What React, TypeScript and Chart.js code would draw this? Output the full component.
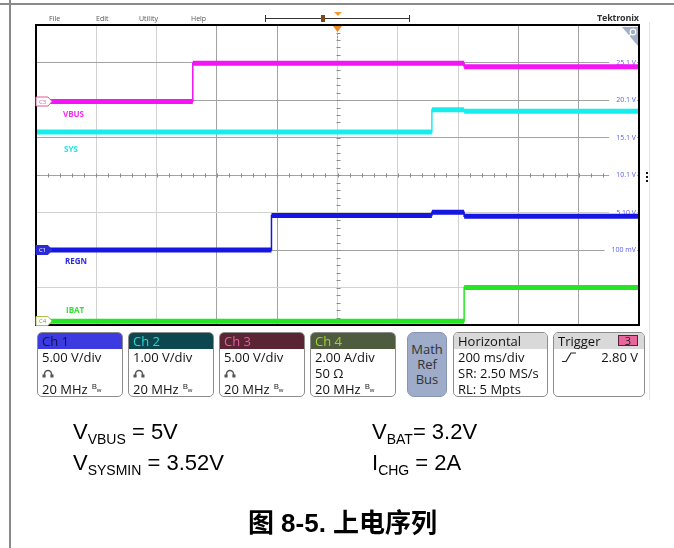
import React, { useEffect, useRef } from 'react';
import { Chart, registerables } from 'chart.js';

Chart.register(...registerables);

const UI_FONT = '"Open Sans", "DejaVu Sans", sans-serif';
const DOC_FONT = '"Liberation Sans", Arial, "Noto Sans CJK SC", sans-serif';

// ---- time base (200 ms/div, 10 div) ----
const timeStartMs = 0;
const timeEndMs = 2000;
const timePerDivMs = 200;
const triggerTimeMs = 1000;

// ---- traces: time in ms, value in channel units ----
const vbusTimesMs = [0, 520, 1420, 2000];
const vbusVolts = [0, 5.1, 4.65, 4.65];
const sysTimesMs = [0, 1313, 1420, 2000];
const sysVolts = [3.15, 3.74, 3.7, 3.7];
const regnTimesMs = [0, 781, 1313, 1420, 2000];
const regnVolts = [0, 4.6, 5.05, 4.5, 4.5];
const ibatTimesMs = [0, 1420, 2000];
const ibatAmps = [0, 1.8, 1.8];

// ---- channel settings ----
const channelNames = ['Ch 1', 'Ch 2', 'Ch 3', 'Ch 4'];
const channelScaleText = ['5.00 V/div', '1.00 V/div', '5.00 V/div', '2.00 A/div'];
const channelUnitsPerDiv = [5, 1, 5, 2];
const channelGroundDiv = [2, 2, 5.96, 0.1];
const channelSecondLine = ['probe', 'probe', 'probe', '50 Ω'];
const bandwidthText = '20 MHz';
const verticalDivs = 8;

// ---- right-edge readout (Ch1 reference levels) ----
const refLevelsV = [-9.9, -4.9, 0.1, 5.1, 10.1, 15.1, 20.1, 25.1, 30.1];
const refLevelLabels = [null, '-4.90 V', '100 mV', '5.10 V', '10.1 V', '15.1 V', '20.1 V', '25.1 V', null];

// ---- readouts ----
const menuItems = ['File', 'Edit', 'Utility', 'Help'];
const horizontalLines = ['200 ms/div', 'SR: 2.50 MS/s', 'RL: 5 Mpts'];
const triggerSource = '3';
const triggerLevel = '2.80 V';

const traceStyles = [
  { name: 'VBUS', axis: 'y3', times: vbusTimesMs, values: vbusVolts, color: '#f414f4', width: 5 },
  { name: 'SYS', axis: 'y2', times: sysTimesMs, values: sysVolts, color: '#16eeee', width: 5 },
  { name: 'REGN', axis: 'y1', times: regnTimesMs, values: regnVolts, color: '#1616e2', width: 5 },
  { name: 'IBAT', axis: 'y4', times: ibatTimesMs, values: ibatAmps, color: '#24e624', width: 5 },
];

function channelAxis(i: number) {
  return {
    display: false,
    min: -channelGroundDiv[i] * channelUnitsPerDiv[i],
    max: (verticalDivs - channelGroundDiv[i]) * channelUnitsPerDiv[i],
  };
}

const xDark = [3, 4, 8, 9];
const yDark = [1, 3, 4, 5, 6];

const decor = {
  id: 'scopeDecor',
  beforeDatasetsDraw(chart: any) {
    const ctx = chart.ctx;
    const xs = chart.scales.x;
    const yr = chart.scales.yRef;
    ctx.save();
    ctx.strokeStyle = '#8a8a8a';
    ctx.lineWidth = 1;
    const cy = Math.round(yr.getPixelForValue(refLevelsV[4])) + 0.5;
    ctx.beginPath();
    for (let t = timeStartMs + timePerDivMs / 5; t < timeEndMs - timePerDivMs / 2; t += timePerDivMs / 5) {
      const x = Math.round(xs.getPixelForValue(t)) + 0.5;
      ctx.moveTo(x, cy - 2);
      ctx.lineTo(x, cy + 2);
    }
    const cx = Math.round(xs.getPixelForValue(triggerTimeMs)) + 0.5;
    const step = channelUnitsPerDiv[0] / 5;
    for (let k = 1; k < verticalDivs * 5; k++) {
      const y = Math.round(yr.getPixelForValue(refLevelsV[0] + k * step)) + 0.5;
      ctx.moveTo(cx - 2, y);
      ctx.lineTo(cx + 2, y);
    }
    ctx.stroke();
    ctx.restore();
  },
  afterDatasetsDraw(chart: any) {
    const ctx = chart.ctx;
    const ca = chart.chartArea;
    const xs = chart.scales.x;
    ctx.save();
    // frame
    ctx.strokeStyle = '#000';
    ctx.lineWidth = 2;
    ctx.strokeRect(ca.left, ca.top, ca.right - ca.left, ca.bottom - ca.top);

    // channel ground markers
    const markers = [
      { label: 'C3', axis: 'y3', fill: '#ffffff', stroke: '#e05a9c', text: '#e05a9c' },
      { label: 'C1', axis: 'y1', fill: '#2b2bd6', stroke: '#2b2bd6', text: '#ffffff' },
      { label: 'C4', axis: 'y4', fill: '#ffffff', stroke: '#a6c44e', text: '#7c9a2c' },
    ];
    markers.forEach((m) => {
      let y = chart.scales[m.axis].getPixelForValue(0);
      y = Math.min(y, ca.bottom - 4);
      const l = ca.left;
      ctx.beginPath();
      ctx.moveTo(l, y - 4.5);
      ctx.lineTo(l + 12, y - 4.5);
      ctx.lineTo(l + 16, y);
      ctx.lineTo(l + 12, y + 4.5);
      ctx.lineTo(l, y + 4.5);
      ctx.closePath();
      ctx.fillStyle = m.fill;
      ctx.fill();
      ctx.lineWidth = 1;
      ctx.strokeStyle = m.stroke;
      ctx.stroke();
      ctx.fillStyle = m.text;
      ctx.font = `6px ${UI_FONT}`;
      ctx.textBaseline = 'middle';
      ctx.textAlign = 'left';
      ctx.fillText(m.label, l + 3, y + 0.5);
    });

    // trigger position marker
    const tx = xs.getPixelForValue(triggerTimeMs);
    ctx.fillStyle = '#f28a24';
    ctx.beginPath();
    ctx.moveTo(tx - 4.5, ca.top + 1);
    ctx.lineTo(tx + 4.5, ca.top + 1);
    ctx.lineTo(tx, ca.top + 7);
    ctx.closePath();
    ctx.fill();
    ctx.fillStyle = '#999';
    for (let y = ca.top + 8; y < ca.top + 16; y += 3) ctx.fillRect(tx - 0.5, y, 1, 2);

    // zoom corner
    ctx.fillStyle = '#a3b0c9';
    ctx.beginPath();
    ctx.moveTo(ca.right - 17, ca.top + 2);
    ctx.lineTo(ca.right - 1, ca.top + 2);
    ctx.lineTo(ca.right - 1, ca.top + 21);
    ctx.closePath();
    ctx.fill();
    ctx.strokeStyle = '#ffffff';
    ctx.lineWidth = 1.2;
    ctx.beginPath();
    ctx.arc(ca.right - 6, ca.top + 7, 2.8, 0, Math.PI * 2);
    ctx.moveTo(ca.right - 8, ca.top + 9);
    ctx.lineTo(ca.right - 11, ca.top + 12);
    ctx.stroke();
    ctx.restore();
  },
};

function Probe() {
  return (
    <svg width="12" height="10" viewBox="0 0 12 10" style={{ display: 'block' }}>
      <path d="M2.5 9 V6 A3.5 3.5 0 0 1 9.5 6 V9" fill="none" stroke="#555" strokeWidth="1.5" />
      <rect x="0.5" y="6.5" width="3" height="3" fill="#555" />
      <rect x="8.5" y="6.5" width="3" height="3" fill="#555" />
    </svg>
  );
}

function Bw() {
  return (
    <span style={{ fontSize: 8, position: 'relative', top: -3, marginLeft: 4 }}>
      B<span style={{ fontSize: 6, position: 'relative', top: 3 }}>w</span>
    </span>
  );
}

const chHeadBg = ['#3b3be0', '#0c4750', '#5b2434', '#4e5b3f'];
const chHeadFg = ['#121250', '#30d4d4', '#e0609c', '#a2d030'];

function Box(props: { left: number; width: number; head: React.ReactNode; headBg: string; headFg: string; children?: React.ReactNode }) {
  return (
    <div
      style={{
        position: 'absolute',
        left: props.left,
        top: 332,
        width: props.width,
        height: 65,
        boxSizing: 'border-box',
        border: '1px solid #8c8c8c',
        borderRadius: 5,
        overflow: 'hidden',
        background: '#fff',
        font: `13px ${UI_FONT}`,
        color: '#111',
      }}
    >
      <div style={{ height: 16, background: props.headBg, color: props.headFg, lineHeight: '16px', paddingLeft: 4, fontSize: 13, position: 'relative' }}>
        {props.head}
      </div>
      {props.children}
    </div>
  );
}

const lineStyle: React.CSSProperties = { height: 16, lineHeight: '16px', paddingLeft: 4, whiteSpace: 'nowrap', display: 'flex', alignItems: 'center' };

export default function App() {
  const canvasRef = useRef<HTMLCanvasElement | null>(null);

  useEffect(() => {
    const canvas = canvasRef.current;
    if (!canvas) return;
    const datasets: any[] = [];
    traceStyles.forEach((tr) => {
      const band: any[] = [];
      for (let i = 0; i < tr.times.length - 1; i++) {
        band.push({ x: tr.times[i], y: tr.values[i] });
        band.push({ x: tr.times[i + 1], y: tr.values[i] });
        band.push({ x: tr.times[i + 1], y: null });
      }
      datasets.push({
        label: tr.name,
        data: band,
        yAxisID: tr.axis,
        borderColor: tr.color,
        borderWidth: tr.width,
        pointRadius: 0,
        spanGaps: false,
        borderCapStyle: 'butt',
      });
      datasets.push({
        label: tr.name + ' edge',
        data: tr.times.map((t, i) => ({ x: t, y: tr.values[i] })),
        yAxisID: tr.axis,
        borderColor: tr.color,
        borderWidth: 1.5,
        pointRadius: 0,
        stepped: true,
      });
    });

    const chart = new Chart(canvas, {
      type: 'line',
      data: { datasets },
      options: {
        animation: false,
        responsive: false,
        events: [],
        layout: { padding: { left: 36, top: 25, right: 35, bottom: 223 } },
        plugins: { legend: { display: false }, tooltip: { enabled: false } },
        scales: {
          x: {
            type: 'linear',
            min: timeStartMs,
            max: timeEndMs,
            ticks: { display: false, stepSize: timePerDivMs },
            grid: { drawTicks: false, lineWidth: 1, color: (c: any) => (xDark.includes(c.index) ? '#a2a2a2' : '#d2d2d2') },
            border: { display: false },
            afterFit: (s: any) => { s.height = 0; },
          },
          yRef: {
            type: 'linear',
            position: 'right',
            min: refLevelsV[0],
            max: refLevelsV[refLevelsV.length - 1],
            afterBuildTicks: (s: any) => { s.ticks = refLevelsV.map((v) => ({ value: v })); },
            ticks: {
              mirror: true,
              padding: -3,
              callback: (_v: any, i: number) => refLevelLabels[i],
              color: '#5c5cee',
              font: { size: 7, family: UI_FONT },
              showLabelBackdrop: true,
              backdropColor: '#ffffff',
              backdropPadding: { left: 7, right: 1, top: 0, bottom: 0 },
            },
            grid: { drawTicks: false, lineWidth: 1, color: (c: any) => (yDark.includes(c.index) ? '#a2a2a2' : '#d2d2d2') },
            border: { display: false },
            afterFit: (s: any) => { s.width = 0; },
          },
          y1: channelAxis(0),
          y2: channelAxis(1),
          y3: channelAxis(2),
          y4: channelAxis(3),
        } as any,
      },
      plugins: [decor],
    } as any);
    return () => chart.destroy();
  }, []);

  const traceLabel = (text: string, left: number, top: number, color: string) => (
    <div style={{ position: 'absolute', left, top, color, font: `700 8px ${UI_FONT}`, lineHeight: '10px' }}>{text}</div>
  );

  return (
    <div style={{ position: 'fixed', left: 0, top: 0, width: 674, height: 548, background: '#fff', overflow: 'hidden' }}>
      <canvas ref={canvasRef} width={674} height={548} style={{ position: 'absolute', left: 0, top: 0, width: 674, height: 548 }} />

      {/* document frame */}
      <div style={{ position: 'absolute', left: 0, top: 3, width: 674, height: 2, background: '#8a8a8a' }} />
      <div style={{ position: 'absolute', left: 9, top: 0, width: 2, height: 548, background: '#8a8a8a' }} />
      <div style={{ position: 'absolute', left: 649, top: 22, width: 1, height: 378, background: '#e4e4e4' }} />

      {/* menu bar */}
      {menuItems.map((m, i) => (
        <div key={m} style={{ position: 'absolute', left: [49, 96, 139, 191][i], top: 14, font: `7px ${UI_FONT}`, color: '#555', lineHeight: '9px' }}>{m}</div>
      ))}
      <div style={{ position: 'absolute', left: 265, top: 18, width: 145, height: 1, background: '#333' }} />
      <div style={{ position: 'absolute', left: 265, top: 15, width: 1, height: 7, background: '#333' }} />
      <div style={{ position: 'absolute', left: 409, top: 15, width: 1, height: 7, background: '#333' }} />
      <div style={{ position: 'absolute', left: 321, top: 15, width: 4, height: 7, background: '#7a4a1c' }} />
      <div style={{ position: 'absolute', left: 334, top: 12, width: 0, height: 0, borderLeft: '4px solid transparent', borderRight: '4px solid transparent', borderTop: '4px solid #f39a2e' }} />
      <div style={{ position: 'absolute', left: 597, top: 12, font: `700 9px ${UI_FONT}`, color: '#333', lineHeight: '11px', letterSpacing: -0.2 }}>Tektronix</div>

      {/* side dots */}
      {[172, 176, 180].map((y) => (
        <div key={y} style={{ position: 'absolute', left: 646, top: y, width: 2, height: 2, background: '#111' }} />
      ))}

      {/* trace labels */}
      {traceLabel('VBUS', 63, 109, '#f030f0')}
      {traceLabel('SYS', 64, 144, '#22e6e6')}
      {traceLabel('REGN', 65, 256, '#2c2ce0')}
      {traceLabel('IBAT', 66, 305, '#34e034')}

      {/* channel readouts */}
      {channelNames.map((name, i) => (
        <Box key={name} left={37 + i * 91} width={86} head={name} headBg={chHeadBg[i]} headFg={chHeadFg[i]}>
          <div style={lineStyle}>{channelScaleText[i]}</div>
          <div style={lineStyle}>{channelSecondLine[i] === 'probe' ? <Probe /> : channelSecondLine[i]}</div>
          <div style={lineStyle}>{bandwidthText}<Bw /></div>
        </Box>
      ))}

      <div
        style={{
          position: 'absolute', left: 407, top: 332, width: 40, height: 65, boxSizing: 'border-box',
          background: '#9eabc9', border: '1px solid #8795b5', borderRadius: 7,
          font: `13px ${UI_FONT}`, color: '#333', textAlign: 'center', lineHeight: '15px', paddingTop: 9,
        }}
      >
        <div>Math</div>
        <div>Ref</div>
        <div>Bus</div>
      </div>

      <Box left={453} width={95} head="Horizontal" headBg="#d9d9d9" headFg="#111">
        {horizontalLines.map((t) => (
          <div key={t} style={lineStyle}>{t}</div>
        ))}
      </Box>

      <Box
        left={553}
        width={92}
        head={
          <>
            Trigger
            <span style={{ position: 'absolute', left: 64, top: 2, width: 20, height: 11, boxSizing: 'border-box', background: '#e8669c', border: '1px solid #5a1f3a', color: '#222', fontSize: 11, lineHeight: '9px', textAlign: 'center' }}>{triggerSource}</span>
          </>
        }
        headBg="#d9d9d9"
        headFg="#111"
      >
        <div style={{ ...lineStyle, position: 'relative' }}>
          <svg width="14" height="10" viewBox="0 0 14 10" style={{ display: 'block', marginLeft: 4 }}>
            <path d="M0 9.5 H4 L9 1 H14" fill="none" stroke="#222" strokeWidth="1.2" />
          </svg>
          <span style={{ position: 'absolute', right: 6 }}>{triggerLevel}</span>
        </div>
      </Box>

      {/* conditions */}
      <div style={{ position: 'absolute', left: 73, top: 421, font: `22px ${DOC_FONT}`, lineHeight: '22px', whiteSpace: 'nowrap', color: '#000' }}>
        V<span style={{ fontSize: 14, position: 'relative', top: 5 }}>VBUS</span> = 5V
      </div>
      <div style={{ position: 'absolute', left: 73, top: 452, font: `22px ${DOC_FONT}`, lineHeight: '22px', whiteSpace: 'nowrap', color: '#000' }}>
        V<span style={{ fontSize: 14, position: 'relative', top: 5 }}>SYSMIN</span> = 3.52V
      </div>
      <div style={{ position: 'absolute', left: 372, top: 421, font: `22px ${DOC_FONT}`, lineHeight: '22px', whiteSpace: 'nowrap', color: '#000' }}>
        V<span style={{ fontSize: 14, position: 'relative', top: 5 }}>BAT</span>= 3.2V
      </div>
      <div style={{ position: 'absolute', left: 372, top: 452, font: `22px ${DOC_FONT}`, lineHeight: '22px', whiteSpace: 'nowrap', color: '#000' }}>
        I<span style={{ fontSize: 14, position: 'relative', top: 5 }}>CHG</span> = 2A
      </div>

      <div style={{ position: 'absolute', left: 0, top: 509, width: 685, textAlign: 'center', font: `700 26px ${DOC_FONT}`, lineHeight: '28px', color: '#000', whiteSpace: 'nowrap' }}>
        图 8-5. 上电序列
      </div>
    </div>
  );
}
